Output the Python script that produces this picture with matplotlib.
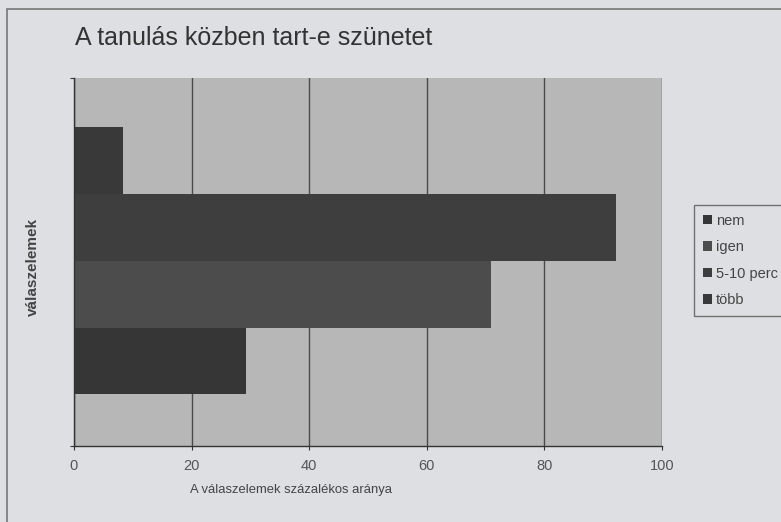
import numpy as np
import matplotlib
matplotlib.use('agg')
import matplotlib.pyplot as plt
import matplotlib.patches as mpatches

plt.rcParams['font.family'] = ['Liberation Sans', 'DejaVu Sans']

# data
series = ['nem', 'igen', '5-10 perc', 'több']
values = [29.3, 70.9, 92.2, 8.3]
colors = ['#363636', '#4c4c4c', '#3e3e3e', '#393939']
xticks = [0, 20, 40, 60, 80, 100]

paper = '#dedfe2'
fig = plt.figure(figsize=(7.81, 5.22), dpi=100, facecolor=paper)
ax = fig.add_axes([74/781, 1-446/522, 588/781, 368/522])
ax.set_facecolor('#b7b7b7')

h = 267/368/4
offs = (np.arange(len(series)) - 1.5) * h + 0.003
for i in range(len(series)):
    ax.barh(offs[i], values[i], height=h, color=colors[i], label=series[i],
            zorder=3, linewidth=0)

ax.set_xlim(0, 100)
ax.set_ylim(-0.5, 0.5)
ax.set_xticks(xticks)
ax.set_yticks([-0.5, 0.5])
ax.set_yticklabels(['', ''])
ax.xaxis.grid(True, color='#4a4a4a', linewidth=1.0, zorder=1)
for s in ['top', 'right']:
    ax.spines[s].set_visible(False)
for s in ['left', 'bottom']:
    ax.spines[s].set_color('#333333')
    ax.spines[s].set_linewidth(1.0)
    ax.spines[s].set_zorder(4)
ax.tick_params(axis='x', length=3, width=0.8, color='#333333', pad=6,
               labelsize=10.5, labelcolor='#555555')
ax.tick_params(axis='y', length=3, width=0.8, color='#333333')

leg = ax.legend(loc='upper left', bbox_to_anchor=(694/781, 1-205/522),
                bbox_transform=fig.transFigure, fontsize=10.5, frameon=True,
                fancybox=False, handlelength=0.65, handleheight=0.65,
                handletextpad=0.25, labelspacing=0.85, borderpad=0.6,
                borderaxespad=0)
leg.get_frame().set_facecolor(paper)
leg.get_frame().set_edgecolor('#555555')
leg.get_frame().set_linewidth(1.0)
for t in leg.get_texts():
    t.set_color('#444444')

fig.text(75/781, 1-38/522, 'A tanulás közben tart-e szünetet', fontsize=18,
         color='#333333', va='center', ha='left')
fig.text(291/781, 1-490/522, 'A válaszelemek százalékos aránya', fontsize=9.4,
         color='#444444', va='center', ha='center')
fig.text(33/781, 1-267/522, 'válaszelemek', fontsize=11, fontweight='bold',
         color='#444444', rotation=90, va='center', ha='center')

# outer chart frame (cut off by the scan at right and bottom)
frame = mpatches.Rectangle((7/781, -0.1), 1.0, 1.1 - 9/522, transform=fig.transFigure,
                           fill=False, edgecolor='#777777', linewidth=1.2, clip_on=False)
fig.patches.append(frame)

plt.savefig('out.png', dpi=100, facecolor=paper)
plt.close()
